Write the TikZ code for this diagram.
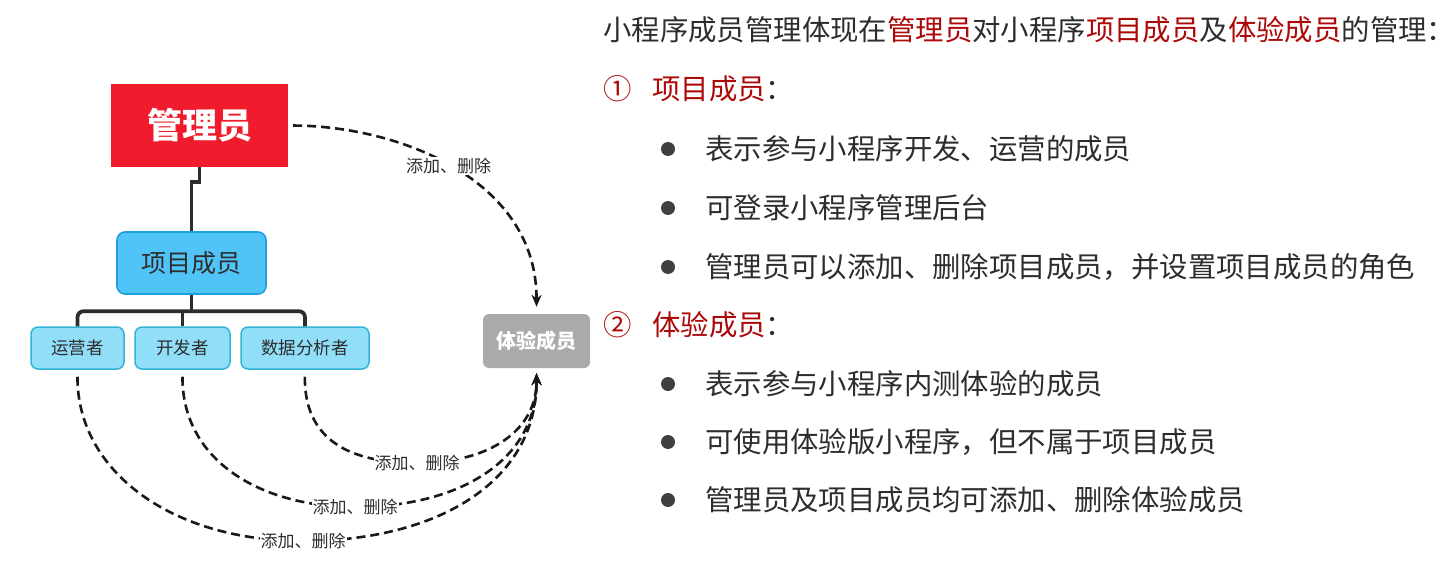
\documentclass[tikz,border=0pt]{standalone}
\usepackage{fontspec}
\setmainfont{Noto Sans CJK SC}
\usetikzlibrary{arrows.meta}
\definecolor{adminred}{RGB}{240,28,45}
\definecolor{xmfill}{RGB}{80,195,247}
\definecolor{xmdraw}{RGB}{30,160,220}
\definecolor{chfill}{RGB}{145,222,248}
\definecolor{chdraw}{RGB}{50,180,215}
\definecolor{tygray}{RGB}{170,170,170}
\definecolor{ink}{RGB}{45,45,45}
\definecolor{dashink}{RGB}{25,25,25}
\definecolor{hred}{RGB}{172,8,8}
\definecolor{bul}{RGB}{64,64,64}
\newcommand\fsz[1]{\fontsize{#1}{#1}\selectfont}
\tikzset{
  adminbox/.style={fill=adminred, draw=none, text=white, font=\fsz{35}\bfseries,
    minimum width=177, minimum height=83, inner sep=0},
  xmbox/.style={fill=xmfill, draw=xmdraw, line width=1.6, rounded corners=8,
    text=ink, font=\fsz{25}, minimum width=149, minimum height=62, inner sep=0},
  chbox/.style={fill=chfill, draw=chdraw, line width=1.5, rounded corners=7,
    text=ink, font=\fsz{17.5}, minimum height=42, inner sep=0},
  tybox/.style={fill=tygray, draw=none, rounded corners=6, text=white,
    font=\fsz{20}\bfseries, minimum width=107, minimum height=54, inner sep=0},
  tree/.style={draw=ink, line width=3.8},
  dashcon/.style={draw=dashink, line width=2.6, dash pattern=on 9 off 5,
    -{Stealth[length=12, width=10]}},
  lbl/.style={fill=white, text=ink, font=\fsz{17}, inner sep=1},
  rt/.style={text=ink, font=\fsz{28.4}, inner sep=0, anchor=west},
  rthead/.style={text=hred, font=\fsz{28.4}, inner sep=0, anchor=west},
  bulletdot/.style={circle, fill=bul, minimum size=14, inner sep=0}
}
\begin{document}
\begin{tikzpicture}[x=1pt, y=-1pt]
\useasboundingbox (0,0) rectangle (1454,580);
% boxes
\node[adminbox] (gly) at (199.5,125.5) {管理员};
\node[xmbox] (xm) at (191.5,263) {项目成员};
\node[chbox, minimum width=93] (yy) at (77.5,348) {运营者};
\node[chbox, minimum width=95] (kf) at (182.5,348) {开发者};
\node[chbox, minimum width=128] (sj) at (305,348) {数据分析者};
\node[tybox] (ty) at (536.5,341) {体验成员};
% tree lines
\draw[tree] (gly.south) -- ++(0,15) -| (xm.north);
\draw[tree, rounded corners=6] (yy.north) -- ++(0,-15) -| (sj.north);
\draw[tree] (kf.north) -- ++(0,-15);
\draw[tree] (xm.south) -- (xm.south |- 0,312);
% dashed connectors
\draw[dashcon, shorten <=5, shorten >=7] (gly.east) .. controls (400,126) and (537,180) .. (ty.north)
  node[lbl, pos=0.48] (l0) {添加、删除};
\coordinate (c3) at (417,463);
\coordinate (c2) at (355,507);
\coordinate (c1) at (303,541);
\draw[dashcon, shorten <=7, shorten >=5] (sj.south) .. controls (304,440) and (350,463) .. (c3)
  .. controls (490,463) and (537,430) .. (ty.south);
\draw[dashcon, shorten <=7, shorten >=5] (kf.south) .. controls (182,460) and (260,507) .. (c2)
  .. controls (460,507) and (537,460) .. (ty.south);
\draw[dashcon, shorten <=7, shorten >=5] (yy.south) .. controls (77,470) and (170,541) .. (c1)
  .. controls (440,541) and (537,480) .. (ty.south);
\node[lbl] (l3) at (c3) {添加、删除};
\node[lbl] (l2) at (c2) {添加、删除};
\node[lbl] (l1) at (c1) {添加、删除};
% right text
\node[rt] (t0) at (603,30) {小程序成员管理体现在\textcolor{hred}{管理员}对小程序\textcolor{hred}{项目成员}及\textcolor{hred}{体验成员}的管理：};
\node[rthead] (n1) at (603,89) {①};
\node[rthead] (h1) at (652,89) {项目成员\textcolor{ink}{：}};
\node[bulletdot] (b1) at (668,149) {};
\node[rt] (t1) at (705,149) {表示参与小程序开发、运营的成员};
\node[bulletdot] (b2) at (668,208) {};
\node[rt] (t2) at (705,208) {可登录小程序管理后台};
\node[bulletdot] (b3) at (668,267) {};
\node[rt] (t3) at (705,267) {管理员可以添加、删除项目成员，并设置项目成员的角色};
\node[rthead] (n2) at (603,325) {②};
\node[rthead] (h2) at (652,325) {体验成员\textcolor{ink}{：}};
\node[bulletdot] (b4) at (668,384) {};
\node[rt] (t4) at (705,384) {表示参与小程序内测体验的成员};
\node[bulletdot] (b5) at (668,442) {};
\node[rt] (t5) at (705,442) {可使用体验版小程序，但不属于项目成员};
\node[bulletdot] (b6) at (668,500) {};
\node[rt] (t6) at (705,500) {管理员及项目成员均可添加、删除体验成员};
\end{tikzpicture}
\end{document}
